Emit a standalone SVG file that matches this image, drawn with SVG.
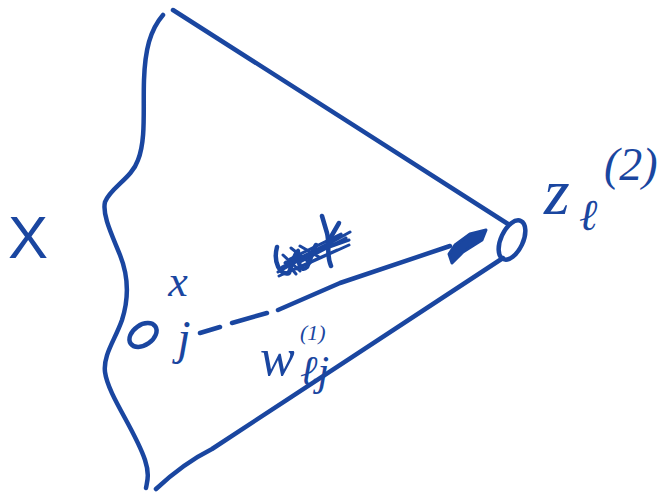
<svg xmlns="http://www.w3.org/2000/svg" width="662" height="497" viewBox="0 0 662 497">
<style>
.ink{fill:none;stroke:#1a46a0;stroke-width:4.5;stroke-linecap:round;stroke-linejoin:round}
.thin{fill:none;stroke:#1a46a0;stroke-width:3;stroke-linecap:round;stroke-linejoin:round}
.lbl{fill:#1a46a0;font-family:"Liberation Serif","DejaVu Serif",serif;font-style:italic}
.big{fill:#1a46a0;font-family:"Liberation Sans","DejaVu Sans",sans-serif}
</style>
<rect width="662" height="497" fill="#ffffff"/>
<g id="region">
<path class="ink" d="M163,15 C150,30 145,50 144,80 C143,110 146,140 138,160 C132,178 110,188 105,202 C102,215 112,235 120,255 C128,275 130,295 122,320 C115,340 103,355 105,372 C108,395 135,430 145,460 C150,475 147,482 146,488"/>
<path class="ink" d="M173,10 C280,78 400,155 508,224"/>
<path class="ink" d="M156,489 C172,474 190,460 212,449 C310,385 410,318 503,258"/>
<text class="big" x="28" y="258" font-size="60" text-anchor="middle">X</text>
</g>
<g id="node-input">
<ellipse class="ink" cx="143" cy="335" rx="15" ry="10" transform="rotate(-35 143 335)"/>
<text class="lbl" x="178" y="296" font-size="44" text-anchor="middle">x</text>
<text class="lbl" x="184" y="354" font-size="48" text-anchor="middle">j</text>
</g>
<g id="node-output">
<ellipse class="ink" cx="512" cy="240" rx="11" ry="21" transform="rotate(25 512 240)"/>
<text class="lbl" x="544" y="214" font-size="66">z</text>
<text class="lbl" x="579" y="230" font-size="44">ℓ</text>
<text class="lbl" x="604" y="180" font-size="46">(2)</text>
</g>
<g id="connectors">
<path class="ink" d="M200,333 L220,327 M232,323 L267,313 M278,310 L340,283 L450,246"/>
<polygon fill="#1a46a0" stroke="#1a46a0" stroke-width="3" stroke-linejoin="round" points="486,230 482,240 463,252 452,263 449,254 455,245 470,234"/>
<text class="lbl" x="260" y="375" font-size="52">w</text>
<text class="lbl" x="300" y="340" font-size="22">(1)</text>
<text class="lbl" x="300" y="385" font-size="42">ℓj</text>
</g>
<g id="scribble">
<path class="ink" d="M322,216 L327,233 C330,245 326,255 331,266"/>
<path class="ink" d="M339,223 L328,242"/>
<path class="thin" d="M278,272 L350,232 M282,267 L345,235 M285,263 L349,240 M290,259 L341,234 M279,276 L337,250 M296,269 L349,245 M300,262 L346,238"/>
<path class="ink" d="M277,247 C273,262 280,276 289,273 C293,262 294,254 298,251 C297,263 301,273 307,267 C311,258 313,250 316,245"/>
<path class="thin" d="M283,255 L300,271 M291,248 L310,263 M300,246 L319,257 M286,262 L296,274"/>
</g>
</svg>
